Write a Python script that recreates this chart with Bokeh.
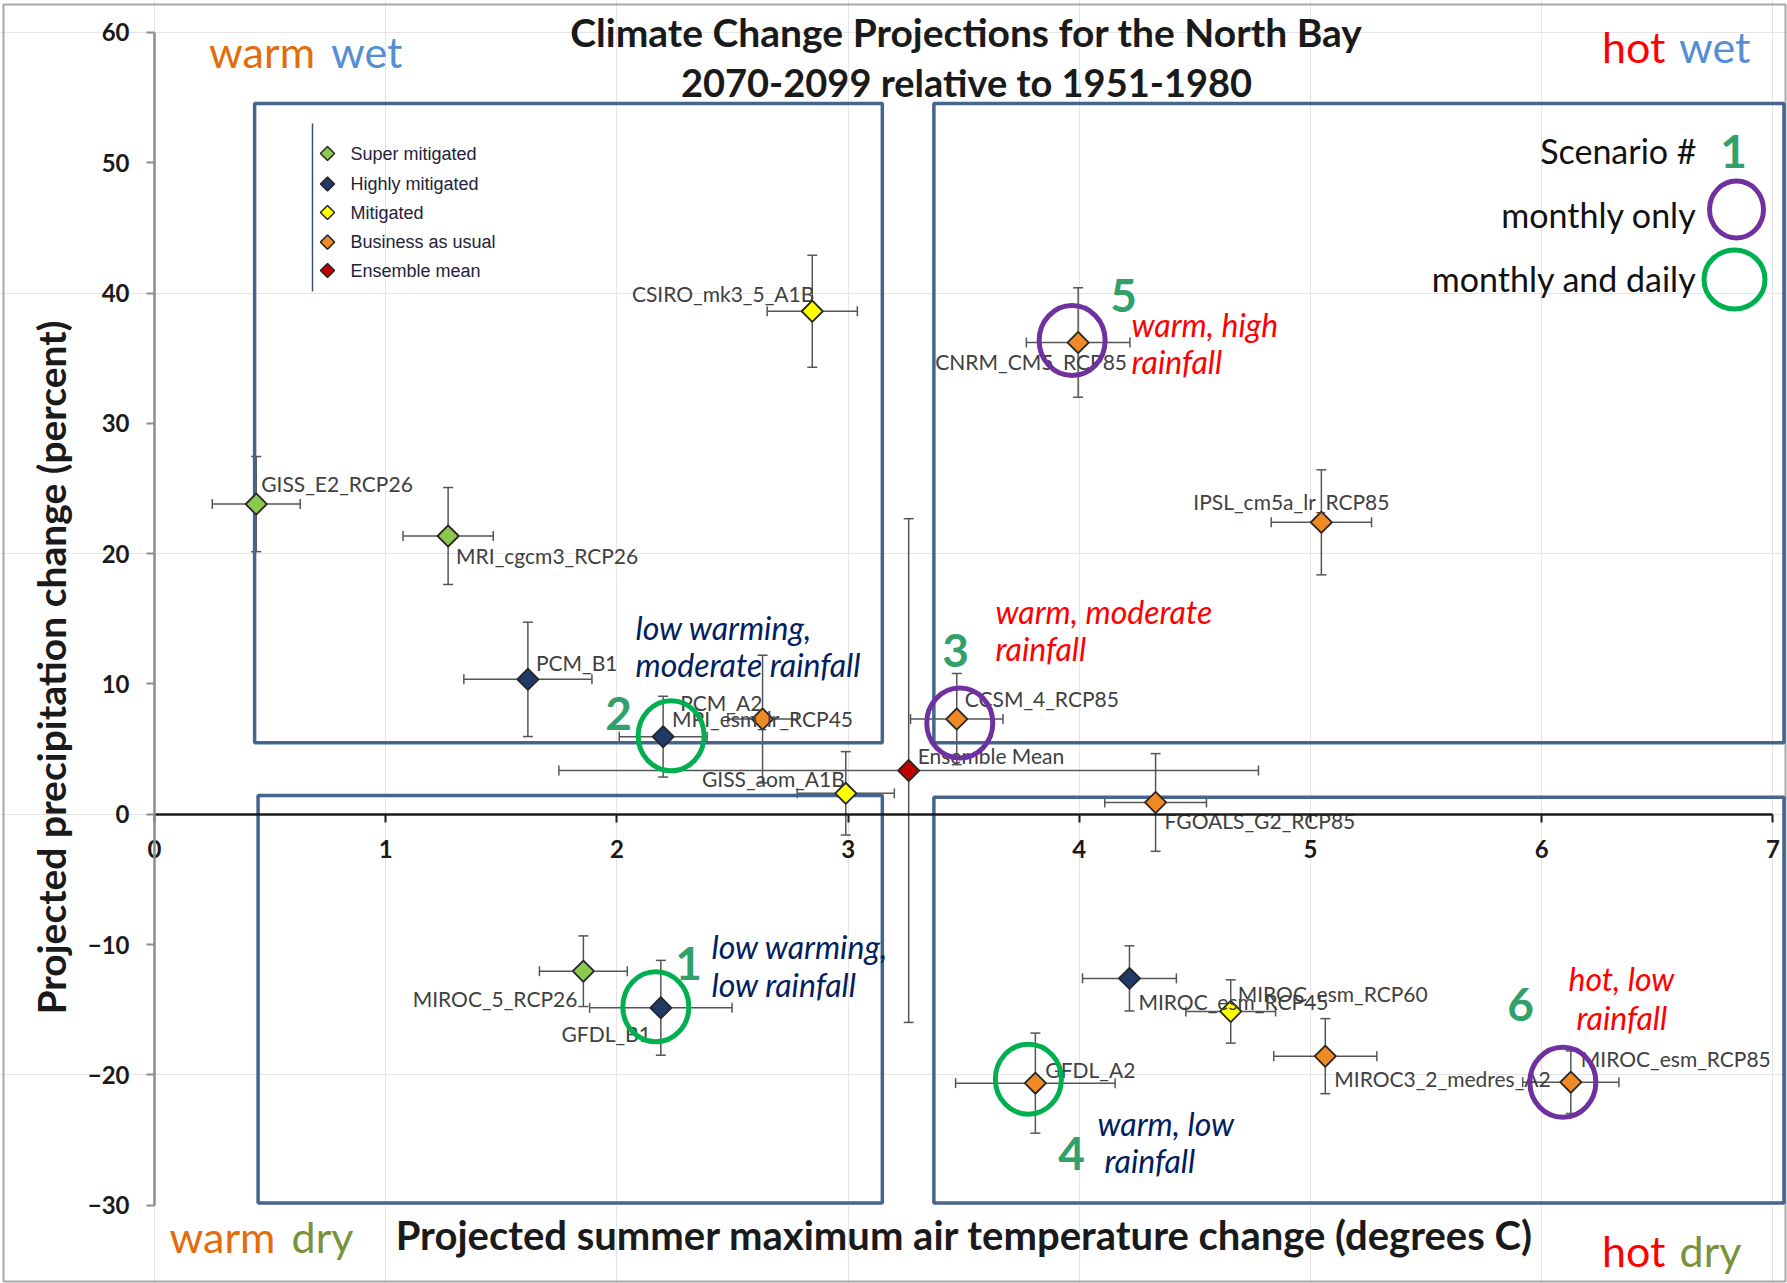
import math
from bokeh.plotting import figure
from bokeh.models import (ColumnDataSource, Whisker, TeeHead, LinearAxis, FixedTicker, Range1d)
from bokeh.core.properties import value
from bokeh.embed import file_html
from bokeh.resources import INLINE

# ---------------- data ----------------
model_names = [
    "GISS_E2_RCP26", "MRI_cgcm3_RCP26", "PCM_B1", "PCM_A2", "MPI_esm_lr_RCP45",
    "CSIRO_mk3_5_A1B", "GISS_aom_A1B", "Ensemble Mean", "CCSM_4_RCP85", "CNRM_CM5_RCP85",
    "IPSL_cm5a_lr_RCP85", "FGOALS_G2_RCP85", "MIROC_5_RCP26", "GFDL_B1", "MIROC_esm_RCP45",
    "MIROC_esm_RCP60", "GFDL_A2", "MIROC3_2_medres_A2", "MIROC_esm_RCP85",
]
temp_change = [0.44, 1.27, 1.615, 2.20, 2.63, 2.845, 2.99, 3.262, 3.47, 3.995,
               5.047, 4.33, 1.855, 2.19, 4.217, 4.655, 3.81, 5.064, 6.126]
temp_err = [0.19, 0.195, 0.277, 0.19, 0.15, 0.195, 0.21, 1.513, 0.20, 0.224,
            0.217, 0.22, 0.19, 0.308, 0.203, 0.194, 0.345, 0.223, 0.208]
precip_change = [23.8, 21.35, 10.35, 5.95, 7.3, 38.6, 1.6, 3.35, 7.3, 36.2,
                 22.4, 0.9, -12.05, -14.86, -12.6, -15.14, -20.64, -18.57, -20.57]
precip_err = [3.65, 3.72, 4.39, 3.1, 4.9, 4.3, 3.2, 19.33, 3.5, 4.2,
              4.03, 3.75, 2.71, 3.64, 2.5, 2.43, 3.84, 2.88, 2.4]
scenario_group = [
    "Super mitigated", "Super mitigated", "Highly mitigated", "Highly mitigated", "Business as usual",
    "Mitigated", "Mitigated", "Ensemble mean", "Business as usual", "Business as usual",
    "Business as usual", "Business as usual", "Super mitigated", "Highly mitigated", "Highly mitigated",
    "Mitigated", "Business as usual", "Business as usual", "Business as usual",
]
legend_groups = ["Super mitigated", "Highly mitigated", "Mitigated", "Business as usual", "Ensemble mean"]
x_ticks = [0, 1, 2, 3, 4, 5, 6, 7]
y_ticks = [-30, -20, -10, 0, 10, 20, 30, 40, 50, 60]

title_lines = ["Climate Change Projections for the North Bay", "2070-2099 relative to 1951-1980"]
x_title = "Projected summer maximum air temperature change  (degrees C)"
y_title = "Projected precipitation change (percent)"

# ---------------- styles ----------------
group_colors = {
    "Super mitigated": "#8CC84B",
    "Highly mitigated": "#1F3A66",
    "Mitigated": "#FFFF00",
    "Business as usual": "#F08A24",
    "Ensemble mean": "#C00000",
}
WARM, WET, HOT, DRY = "#E46C0A", "#558ED5", "#FF0000", "#77933C"
NAVY, RED = "#002060", "#FF0000"
C_GREEN, C_PURPLE = "#00B050", "#7030A0"
NUM_GREEN = "#31A06A"
BOX = "#46658C"
ERR = "#555555"
FONT = "Lato"

# ---------------- canvas geometry (canvas pixels) ----------------
W, H = 1787, 1283
PX_X, PX_Y = 231.2, 13.03          # pixels per data unit
X0, Y0 = 154.0, 813.7               # canvas pixel of the origin


def fx(px):
    return (px - X0) / PX_X


def fy(py):
    return (Y0 - py) / PX_Y


p = figure(width=W, height=H, output_backend="svg", toolbar_location=None,
           x_axis_location=None, y_axis_location=None,
           x_range=Range1d(fx(0), fx(W)), y_range=Range1d(fy(H), fy(0)),
           min_border_left=0, min_border_right=0, min_border_top=0, min_border_bottom=0)
p.outline_line_color = None
p.background_fill_color = "white"
p.border_fill_color = "white"

# outer frame of the original figure
p.quad(left=[fx(3)], right=[fx(1785)], bottom=[fy(1281)], top=[fy(4)],
       fill_color=None, line_color="#A8A8A8", line_width=2)

# axes crossing at the origin (real Bokeh axes at fixed locations)
yax = LinearAxis(ticker=FixedTicker(ticks=y_ticks), bounds=(min(y_ticks), max(y_ticks)),
                 fixed_location=0,
                 axis_line_color="#8C8C8C", axis_line_width=2.5,
                 major_tick_line_color="#8C8C8C", major_tick_line_width=2,
                 major_tick_out=8, major_tick_in=0, minor_tick_out=0, minor_tick_in=0,
                 major_label_text_font=FONT, major_label_text_font_style="bold",
                 major_label_text_font_size="24px", major_label_text_color="#1A1A1A",
                 major_label_standoff=17)
p.add_layout(yax, "left")
xax = LinearAxis(ticker=FixedTicker(ticks=x_ticks), bounds=(min(x_ticks), max(x_ticks)),
                 fixed_location=0,
                 axis_line_color="#1A1A1A", axis_line_width=2.5,
                 major_tick_line_color="#1A1A1A", major_tick_line_width=2,
                 major_tick_out=8, major_tick_in=0, minor_tick_out=0, minor_tick_in=0,
                 major_label_text_font=FONT, major_label_text_font_style="bold",
                 major_label_text_font_size="24px", major_label_text_color="#1A1A1A",
                 major_label_standoff=18)
p.add_layout(xax, "below")

# quadrant boxes
quad_boxes = [(0.433, 3.148, 5.48, 54.55), (3.371, 7.048, 5.48, 54.55),
              (0.448, 3.148, -29.83, 1.44), (3.371, 7.048, -29.83, 1.3)]
p.quad(left=[b[0] for b in quad_boxes], right=[b[1] for b in quad_boxes],
       bottom=[b[2] for b in quad_boxes], top=[b[3] for b in quad_boxes],
       fill_color=None, line_color=BOX, line_width=3.5)

# error bars
src = ColumnDataSource(dict(
    x=temp_change, y=precip_change,
    xl=[a - b for a, b in zip(temp_change, temp_err)], xu=[a + b for a, b in zip(temp_change, temp_err)],
    yl=[a - b for a, b in zip(precip_change, precip_err)], yu=[a + b for a, b in zip(precip_change, precip_err)],
    color=[group_colors[g] for g in scenario_group], name=model_names,
))


def tee():
    return TeeHead(size=10, line_color=ERR, line_width=1.5)


for dim, base, lo, up in (("height", "x", "yl", "yu"), ("width", "y", "xl", "xu")):
    w = Whisker(source=src, base=base, lower=lo, upper=up, dimension=dim,
                line_color=ERR, line_width=1.5, upper_head=tee(), lower_head=tee(), level="underlay")
    p.add_layout(w)

# points
p.scatter("x", "y", source=src, marker="square", size=15, angle=math.pi / 4,
          fill_color="color", line_color="#262626", line_width=1.8)

# point labels: (dx px, dy px, align)
label_layout = {
    "GISS_E2_RCP26": (5, -21, "left"), "MRI_cgcm3_RCP26": (8, 19, "left"),
    "PCM_B1": (8, -17, "left"), "PCM_A2": (17, -34, "left"),
    "MPI_esm_lr_RCP45": (0, -1, "center"), "CSIRO_mk3_5_A1B": (2, -18, "right"),
    "GISS_aom_A1B": (-1, -15, "right"), "Ensemble Mean": (9, -15, "left"),
    "CCSM_4_RCP85": (8, -21, "left"), "CNRM_CM5_RCP85": (-47, 19, "center"),
    "IPSL_cm5a_lr_RCP85": (-30, -21, "center"), "FGOALS_G2_RCP85": (9, 18, "left"),
    "MIROC_5_RCP26": (-6, 27, "right"), "GFDL_B1": (-10, 26, "right"),
    "MIROC_esm_RCP45": (9, 23, "left"), "MIROC_esm_RCP60": (7, -18, "left"),
    "GFDL_A2": (10, -14, "left"), "MIROC3_2_medres_A2": (9, 22, "left"),
    "MIROC_esm_RCP85": (10, -24, "left"),
}
for align in ("left", "center", "right"):
    xs, ys, ts = [], [], []
    for n, xv, yv in zip(model_names, temp_change, precip_change):
        dx, dy, al = label_layout[n]
        if al == align:
            xs.append(xv + dx / PX_X)
            ys.append(yv - dy / PX_Y)
            ts.append(n)
    p.text(x=xs, y=ys, text=ts, text_font=value(FONT), text_font_size="21px",
           text_align=align, text_baseline="middle", text_color="#404040")

# highlighted scenarios
highlights = [
    ("GFDL_B1", "1", C_GREEN, -5, -1, (688, 963), ["low warming,", "low rainfall"], NAVY, [(711, 946), (711, 984)]),
    ("PCM_A2", "2", C_GREEN, 8, -1, (618, 713), ["low warming,", "moderate rainfall"], NAVY, [(635, 627), (635, 664)]),
    ("CCSM_4_RCP85", "3", C_PURPLE, 3, 4, (955, 650), ["warm, moderate", "rainfall"], RED, [(995, 611), (995, 648)]),
    ("GFDL_A2", "4", C_GREEN, -7, -4, (1071, 1153), ["warm, low", "rainfall"], NAVY, [(1097, 1123), (1104, 1160)]),
    ("CNRM_CM5_RCP85", "5", C_PURPLE, -6, -2, (1123, 295), ["warm, high", "rainfall"], RED, [(1131, 324), (1131, 361)]),
    ("MIROC_esm_RCP85", "6", C_PURPLE, -8, 0, (1520, 1004), ["hot, low", "rainfall"], RED, [(1568, 978), (1576, 1017)]),
]
for name, num, ccol, dx, dy, npos, lines, dcol, dpos in highlights:
    i = model_names.index(name)
    p.ellipse(x=[temp_change[i] + dx / PX_X], y=[precip_change[i] - dy / PX_Y],
              width=66, height=70, width_units="screen", height_units="screen",
              fill_color=None, line_color=ccol, line_width=5)
    p.text(x=[fx(npos[0])], y=[fy(npos[1])], text=[num], text_font=value(FONT),
           text_font_style="bold", text_font_size="46px", text_align="center",
           text_baseline="middle", text_color=NUM_GREEN)
    p.text(x=[fx(q[0]) for q in dpos], y=[fy(q[1]) for q in dpos], text=lines,
           text_font=value(FONT), text_font_style="italic", text_font_size="32px",
           text_align="left", text_baseline="middle", text_color=dcol)

# title and axis titles
p.text(x=[fx(966)], y=[fy(31)], text=[title_lines[0]], text_font=value(FONT),
       text_font_style="bold", text_font_size="39px", text_align="center",
       text_baseline="middle", text_color="#1A1A1A")
p.text(x=[fx(966)], y=[fy(81)], text=[title_lines[1]], text_font=value(FONT),
       text_font_style="bold", text_font_size="38px", text_align="center",
       text_baseline="middle", text_color="#1A1A1A")
p.text(x=[fx(969)], y=[fy(1234)], text=[x_title], text_font=value(FONT),
       text_font_style="bold", text_font_size="40px", text_align="center",
       text_baseline="middle", text_color="#1A1A1A")
p.text(x=[fx(50)], y=[fy(667)], text=[y_title], angle=math.pi / 2, text_font=value(FONT),
       text_font_style="bold", text_font_size="39px", text_align="center",
       text_baseline="middle", text_color="#1A1A1A")

# quadrant labels
quad_words = [("warm", WARM, 208.6, "left", 51), ("wet", WET, 402, "right", 51),
              ("hot", HOT, 1601.5, "left", 46), ("wet", WET, 1750, "right", 46),
              ("warm", WARM, 169, "left", 1236), ("dry", DRY, 353, "right", 1236),
              ("hot", HOT, 1601.5, "left", 1250), ("dry", DRY, 1741, "right", 1250)]
for word, col, xpx, al, ypx in quad_words:
    p.text(x=[fx(xpx)], y=[fy(ypx)], text=[word], text_font=value(FONT), text_font_size="43px",
           text_align=al, text_baseline="middle", text_color=col)

# left legend (marker categories)
legend_y = [153, 183.5, 212, 241.6, 270]
p.segment(x0=[fx(312)], y0=[fy(123)], x1=[fx(312)], y1=[fy(291)], line_color="#3F5170", line_width=1.5)
p.scatter(x=[fx(327)] * len(legend_groups), y=[fy(v) for v in legend_y], marker="square", size=10,
          angle=math.pi / 4, fill_color=[group_colors[g] for g in legend_groups],
          line_color="#262626", line_width=1.5)
p.text(x=[fx(350)] * len(legend_groups), y=[fy(v) for v in legend_y], text=legend_groups,
       text_font=value("Liberation Sans"), text_font_size="18px", text_align="left",
       text_baseline="middle", text_color="#22223A")

# right legend (scenario key)
p.text(x=[fx(1696)] * 3, y=[fy(150), fy(214), fy(278)],
       text=["Scenario #", "monthly only", "monthly and daily"], text_font=value(FONT),
       text_font_size="34px", text_align="right", text_baseline="middle", text_color="#111111")
p.text(x=[fx(1733)], y=[fy(151)], text=["1"], text_font=value(FONT), text_font_style="bold",
       text_font_size="46px", text_align="center", text_baseline="middle", text_color=NUM_GREEN)
p.ellipse(x=[fx(1736)], y=[fy(209)], width=54, height=57, width_units="screen", height_units="screen",
          fill_color=None, line_color=C_PURPLE, line_width=5)
p.ellipse(x=[fx(1734)], y=[fy(279)], width=61, height=59, width_units="screen", height_units="screen",
          fill_color=None, line_color=C_GREEN, line_width=5)

open("out.html", "w").write(file_html(p, INLINE))
